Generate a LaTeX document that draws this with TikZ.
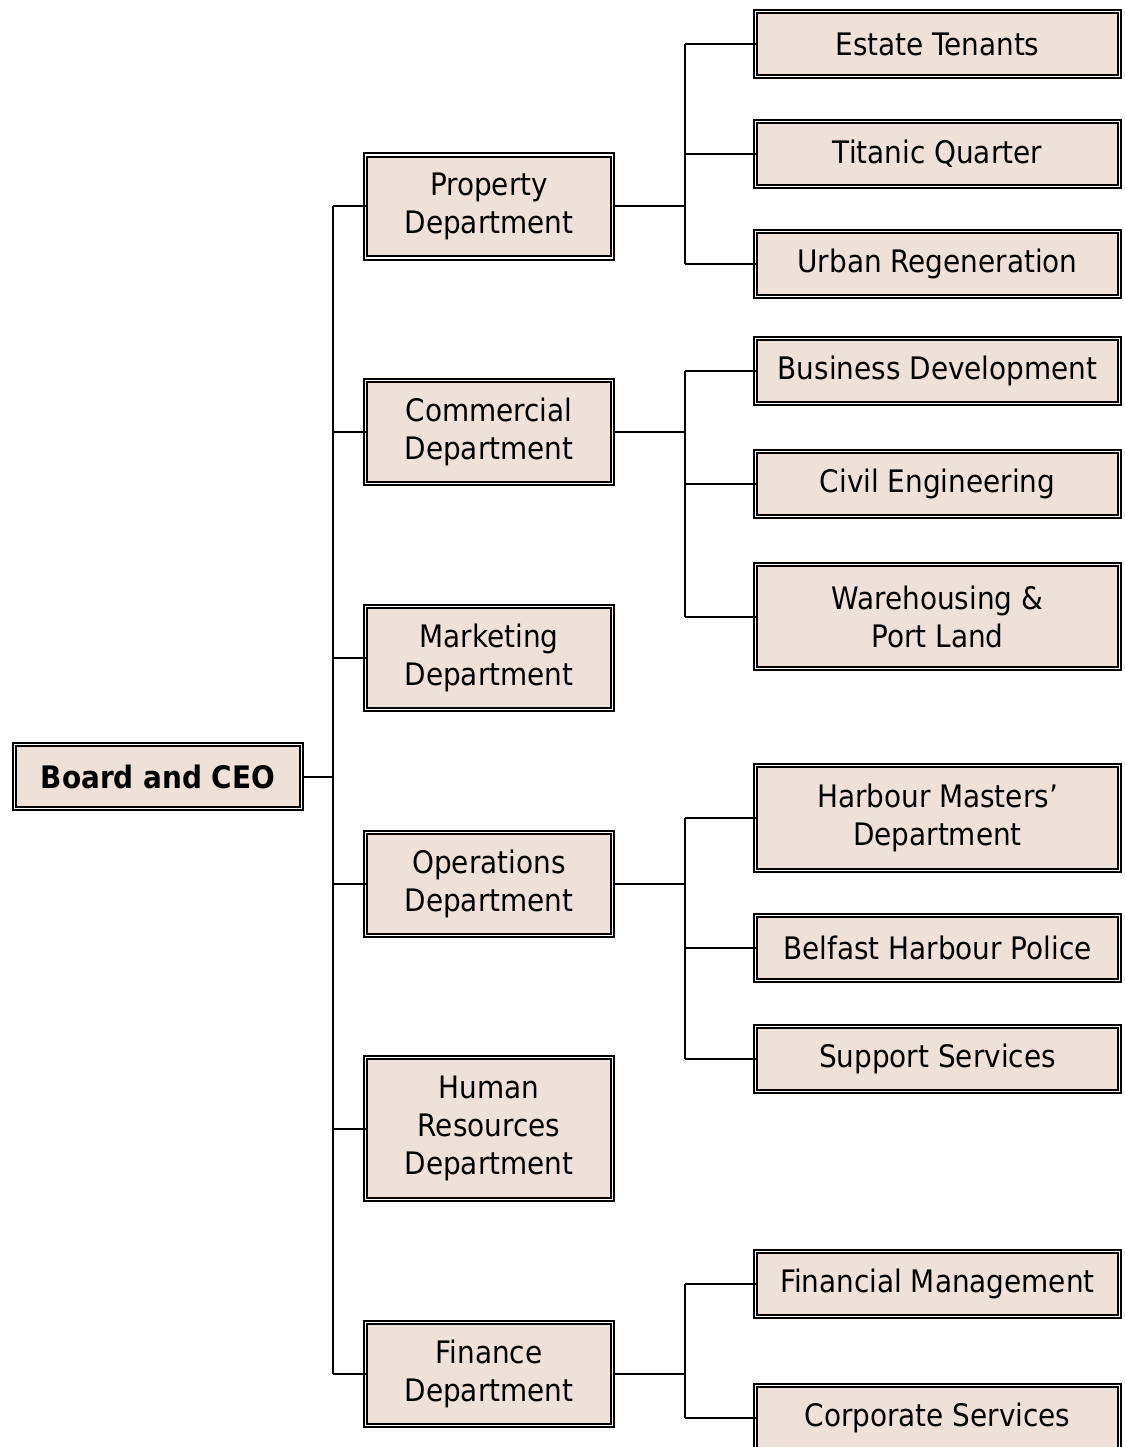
\documentclass[tikz,border=0pt]{standalone}
\usepackage{fontspec}
\setmainfont{DejaVu Sans Condensed}
\definecolor{boxfill}{RGB}{238,225,217}
\tikzset{
  box/.style={draw=black, line width=1.9pt, double=white, double distance=1.3pt,
    fill=boxfill, inner sep=0pt, outer sep=0pt, align=center,
    font=\fontsize{31}{38}\selectfont},
  dept/.style={box, minimum width=247, minimum height=103},
  sub/.style={box, minimum width=364, minimum height=65},
  link/.style={line width=2pt}
}
\begin{document}
\begin{tikzpicture}[x=1pt,y=-1pt]
\useasboundingbox (0,0) rectangle (1124,1447);
\clip (0,0) rectangle (1124,1447);
% coordinates for trunks
\coordinate (tx) at (333,0);
\coordinate (sx) at (685,0);
% root
\node[box, minimum width=287, minimum height=64, font=\fontsize{31}{38}\selectfont\bfseries] (ceo) at (158,776.5) {Board and CEO};
% departments
\node[dept] (prop) at (489,206.5) {Property\\Department};
\node[dept] (comm) at (489,432) {Commercial\\Department};
\node[dept] (mark) at (489,658) {Marketing\\Department};
\node[dept] (oper) at (489,884) {Operations\\Department};
\node[dept, minimum height=142] (hr) at (489,1128.5) {Human\\Resources\\Department};
\node[dept] (fin) at (489,1374) {Finance\\Department};
% sub units
\node[sub] (et) at (937.5,44) {Estate Tenants};
\node[sub] (tq) at (937.5,154) {Titanic Quarter};
\node[sub] (ur) at (937.5,264) {Urban Regeneration};
\node[sub] (bd) at (937.5,371) {Business Development};
\node[sub] (ce) at (937.5,484) {Civil Engineering};
\node[sub, minimum height=104] (wh) at (937.5,616.5) {Warehousing \&\\Port Land};
\node[sub, minimum height=105] (hm) at (937.5,818) {Harbour Masters’\\Department};
\node[sub] (bp) at (937.5,948) {Belfast Harbour Police};
\node[sub] (ss) at (937.5,1059) {Support Services};
\node[sub] (fm) at (937.5,1284) {Financial Management};
\node[sub] (cs) at (937.5,1418) {Corporate Services};
% main trunk
\draw[link] (ceo.east) -- (ceo.east -| tx);
\draw[link] (prop.west -| tx) -- (fin.west -| tx);
\foreach \d in {prop,comm,mark,oper,hr,fin}
  \draw[link] (\d.west) -- (\d.west -| tx);
% property group
\draw[link] (prop.east) -- (prop.east -| sx);
\draw[link] (et.west -| sx) -- (ur.west -| sx);
\foreach \s in {et,tq,ur} \draw[link] (\s.west) -- (\s.west -| sx);
% commercial group
\draw[link] (comm.east) -- (comm.east -| sx);
\draw[link] (bd.west -| sx) -- (wh.west -| sx);
\foreach \s in {bd,ce,wh} \draw[link] (\s.west) -- (\s.west -| sx);
% operations group
\draw[link] (oper.east) -- (oper.east -| sx);
\draw[link] (hm.west -| sx) -- (ss.west -| sx);
\foreach \s in {hm,bp,ss} \draw[link] (\s.west) -- (\s.west -| sx);
% finance group
\draw[link] (fin.east) -- (fin.east -| sx);
\draw[link] (fm.west -| sx) -- (cs.west -| sx);
\foreach \s in {fm,cs} \draw[link] (\s.west) -- (\s.west -| sx);
\end{tikzpicture}
\end{document}
